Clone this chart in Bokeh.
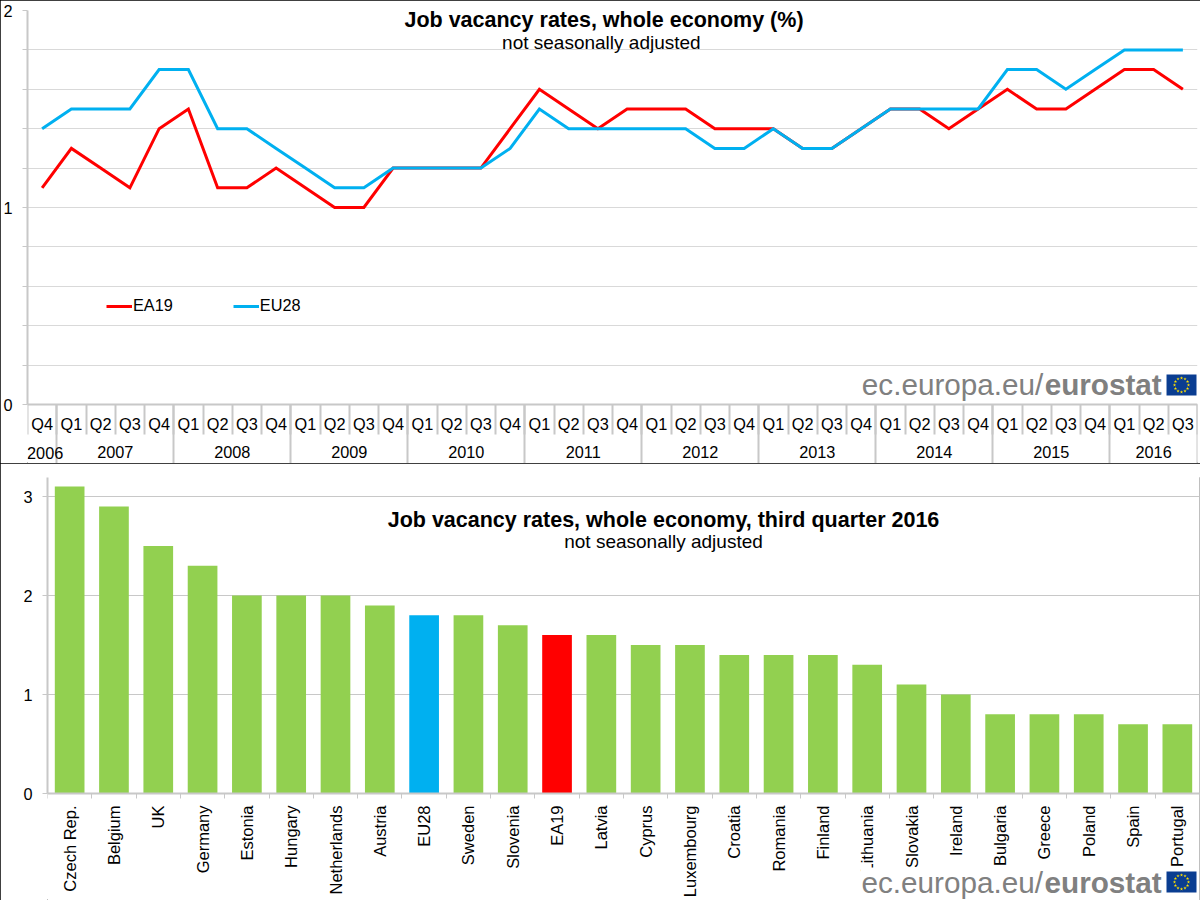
import math
from bokeh.embed import file_html
from bokeh.layouts import column
from bokeh.models import (BoxAnnotation, FixedTicker, Grid, Label,
                          Legend, LegendItem, LinearAxis, Range1d)
from bokeh.plotting import figure
from bokeh.resources import INLINE

# ---------- data ----------
quarter_labels = ["Q4"] + ["Q1", "Q2", "Q3", "Q4"] * 9 + ["Q1", "Q2", "Q3"]
year_labels = ["2006", "2007", "2008", "2009", "2010", "2011", "2012", "2013", "2014", "2015", "2016"]
year_lengths = [1, 4, 4, 4, 4, 4, 4, 4, 4, 4, 3]
ea19 = [1.1, 1.3, 1.2, 1.1, 1.4, 1.5, 1.1, 1.1, 1.2, 1.1, 1.0, 1.0, 1.2, 1.2, 1.2, 1.2, 1.4,
        1.6, 1.5, 1.4, 1.5, 1.5, 1.5, 1.4, 1.4, 1.4, 1.3, 1.3, 1.4, 1.5, 1.5, 1.4, 1.5,
        1.6, 1.5, 1.5, 1.6, 1.7, 1.7, 1.6]
eu28 = [1.4, 1.5, 1.5, 1.5, 1.7, 1.7, 1.4, 1.4, 1.3, 1.2, 1.1, 1.1, 1.2, 1.2, 1.2, 1.2, 1.3,
        1.5, 1.4, 1.4, 1.4, 1.4, 1.4, 1.3, 1.3, 1.4, 1.3, 1.3, 1.4, 1.5, 1.5, 1.5, 1.5,
        1.7, 1.7, 1.6, 1.7, 1.8, 1.8, 1.8]
countries = ["Czech Rep.", "Belgium", "UK", "Germany", "Estonia", "Hungary", "Netherlands", "Austria",
             "EU28", "Sweden", "Slovenia", "EA19", "Latvia", "Cyprus", "Luxembourg", "Croatia", "Romania",
             "Finland", "Lithuania", "Slovakia", "Ireland", "Bulgaria", "Greece", "Poland", "Spain", "Portugal"]
rates = [3.1, 2.9, 2.5, 2.3, 2.0, 2.0, 2.0, 1.9, 1.8, 1.8, 1.7, 1.6, 1.6, 1.5, 1.5, 1.4, 1.4, 1.4,
         1.3, 1.1, 1.0, 0.8, 0.8, 0.8, 0.7, 0.7]
line_ticks = [0, 0.2, 0.4, 0.6, 0.8, 1.0, 1.2, 1.4, 1.6, 1.8, 2.0]
line_tick_labels = {0: "0", 1: "1", 2: "2"}
bar_ticks = [0, 1, 2, 3]

# ---------- styles ----------
FONT = "Liberation Sans"
RED, BLUE, GREEN = "#FF0000", "#00B0F0", "#92D050"
AXIS = "#C8C8C8"
GRID = "#D9D9D9"
TEXT = "#000000"
LOGO = "#808080"
LABEL_SIZE = "16.3px"
BORDER = {"outline": "1px solid #000000", "outline-offset": "-1px", "z-index": "1"}


def add_logo(p, x_left, x_bold, x_flag, y_text, y_flag):
    """Eurostat wordmark and flag, on the figure's pixel range."""
    p.add_layout(BoxAnnotation(left=x_left - 1, right=x_flag + 30, top=y_flag - 4, bottom=y_flag + 26,
                               x_range_name="px", y_range_name="px", fill_color="white", fill_alpha=1,
                               line_color=None, level="annotation"))
    p.add_layout(Label(x=x_left, y=y_text, text="ec.europa.eu/", x_range_name="px", y_range_name="px",
                       text_font=FONT, text_font_size="29.7px", text_color=LOGO, text_baseline="alphabetic",
                       level="overlay"))
    p.add_layout(Label(x=x_bold, y=y_text, text="eurostat", x_range_name="px", y_range_name="px",
                       text_font=FONT, text_font_size="29.7px", text_font_style="bold", text_color=LOGO,
                       text_baseline="alphabetic", level="overlay"))
    top, bottom = y_flag, y_flag + 21
    p.add_layout(BoxAnnotation(left=x_flag, right=x_flag + 30, top=top, bottom=bottom, x_range_name="px",
                               y_range_name="px", fill_color="#0A3D91", fill_alpha=1, line_color=None,
                               level="annotation"))
    cx, cy = x_flag + 15, (top + bottom) / 2
    sx = [cx + 7 * math.cos(i * math.pi / 6) for i in range(12)]
    sy = [cy + 7 * math.sin(i * math.pi / 6) for i in range(12)]
    r = p.scatter(sx, sy, marker="star", size=3.5, color="#FFE000", line_width=0,
                  x_range_name="px", y_range_name="px")
    r.level = "overlay"


def add_titles(p, cx, title, sub, y_title, y_sub):
    p.add_layout(Label(x=cx, y=y_title, text=title, x_range_name="px", y_range_name="px", text_font=FONT,
                       text_font_size="21.5px", text_font_style="bold", text_color=TEXT, text_align="center",
                       text_baseline="middle"))
    p.add_layout(Label(x=cx, y=y_sub, text=sub, x_range_name="px", y_range_name="px", text_font=FONT,
                       text_font_size="19px", text_color=TEXT, text_align="center", text_baseline="middle"))


# ---------- top: line chart ----------
TOP_H = 463
y0_px, y2_px = 404, 10
unit = (y0_px - y2_px) / 2
top = figure(width=1200, height=TOP_H, output_backend="svg", toolbar_location=None, frame_align=False,
             x_range=Range1d(-0.5, len(quarter_labels) - 0.5),
             y_range=Range1d(-(TOP_H - y0_px) / unit, 2),
             min_border_left=26, min_border_right=3, min_border_top=10, min_border_bottom=0,
             outline_line_color=None, background_fill_color="white", border_fill_color="white",
             x_axis_type=None, y_axis_type=None, styles=BORDER)
top.extra_x_ranges["px"] = Range1d(26, 1197)
top.extra_y_ranges["px"] = Range1d(TOP_H, 10)

n_q = len(quarter_labels)
yaxis = LinearAxis(ticker=FixedTicker(ticks=line_ticks), bounds=(0, 2),
                   major_label_overrides={t: line_tick_labels.get(t, "") for t in line_ticks},
                   major_label_text_font=FONT, major_label_text_font_size=LABEL_SIZE, major_label_text_color=TEXT,
                   major_label_standoff=10, major_tick_in=0, major_tick_out=5, minor_tick_line_color=None,
                   axis_line_color=AXIS, axis_line_width=2, major_tick_line_color=AXIS, major_tick_line_width=1)
top.add_layout(yaxis, "left")
top.add_layout(Grid(dimension=1, ticker=FixedTicker(ticks=line_ticks), grid_line_color=GRID, grid_line_width=1))

x_idx = list(range(n_q))
boundaries = [i - 0.5 for i in range(n_q + 1)]
year_edges = [-0.5]
for n in year_lengths:
    year_edges.append(year_edges[-1] + n)
year_centers = [(a + b) / 2 for a, b in zip(year_edges[:-1], year_edges[1:])]

qaxis = LinearAxis(fixed_location=0, ticker=FixedTicker(ticks=boundaries), major_tick_in=0, major_tick_out=30,
                   major_tick_line_color=AXIS, major_tick_line_width=2, minor_tick_line_color=None,
                   axis_line_color=AXIS, axis_line_width=2, major_label_text_color=None)
top.add_layout(qaxis, "below")
yedge_axis = LinearAxis(fixed_location=0, ticker=FixedTicker(ticks=year_edges[1:]), major_tick_in=0, major_tick_out=59,
                        major_tick_line_color=AXIS, major_tick_line_width=2, minor_tick_line_color=None,
                        axis_line_color=None, major_label_text_color=None)
top.add_layout(yedge_axis, "below")
qlab = LinearAxis(fixed_location=0, ticker=FixedTicker(ticks=x_idx),
                  major_label_overrides=dict(zip(x_idx, quarter_labels)), major_tick_line_color=None,
                  minor_tick_line_color=None, axis_line_color=None, major_label_standoff=4,
                  major_label_text_font=FONT, major_label_text_font_size=LABEL_SIZE, major_label_text_color=TEXT)
top.add_layout(qlab, "below")
ylab = LinearAxis(fixed_location=0, ticker=FixedTicker(ticks=year_centers[1:]),
                  major_label_overrides=dict(zip(year_centers[1:], year_labels[1:])), major_tick_line_color=None,
                  minor_tick_line_color=None, axis_line_color=None, major_label_standoff=35,
                  major_label_text_font=FONT, major_label_text_font_size=LABEL_SIZE, major_label_text_color=TEXT)
top.add_layout(ylab, "below")
# 2006 is wider than its one-quarter slot: nudged right so the frame does not clip its first digit
top.add_layout(Label(x=year_centers[0], y=452, y_range_name="px", text=year_labels[0], x_offset=3, text_font=FONT,
                     text_font_size=LABEL_SIZE, text_color=TEXT, text_align="center", text_baseline="middle",
                     level="overlay"))

l_ea = top.line(x_idx, ea19, line_color=RED, line_width=3, line_join="miter")
l_eu = top.line(x_idx, eu28, line_color=BLUE, line_width=3, line_join="miter")
legend = Legend(items=[LegendItem(label="EA19", renderers=[l_ea]), LegendItem(label="EU28", renderers=[l_eu])],
                orientation="horizontal", location=(79, 148), padding=0, margin=0, spacing=60,
                glyph_width=26, glyph_height=18, label_standoff=1, label_text_font=FONT,
                label_text_font_size=LABEL_SIZE, label_text_color=TEXT, border_line_color=None,
                background_fill_alpha=0)
top.add_layout(legend, "center")
add_titles(top, 603, "Job vacancy rates, whole economy (%)", "not  seasonally adjusted", 19, 42)
add_logo(top, 861, 1044, 1166, 384, 374)

# ---------- bottom: bar chart ----------
BOT_H = 437
by0_px, by3_px = 793, 496
bunit = (by0_px - by3_px) / 3
n_c = len(countries)
bot = figure(width=1200, height=BOT_H, output_backend="svg", toolbar_location=None, frame_align=False,
             x_range=Range1d(0, n_c),
             y_range=Range1d(-(900 - by0_px) / bunit, (by0_px - 477) / bunit),
             min_border_left=47, min_border_right=1, min_border_top=14, min_border_bottom=0,
             outline_line_color=None, background_fill_color="white", border_fill_color="white",
             x_axis_type=None, y_axis_type=None, styles=BORDER)
bot.extra_x_ranges["px"] = Range1d(47, 1199)
bot.extra_y_ranges["px"] = Range1d(900, 477)

byaxis = LinearAxis(ticker=FixedTicker(ticks=bar_ticks), bounds=(0, (by0_px - 477) / bunit),
                    major_label_text_font=FONT, major_label_text_font_size=LABEL_SIZE, major_label_text_color=TEXT,
                    major_label_standoff=10, major_tick_in=0, major_tick_out=5, minor_tick_line_color=None,
                    axis_line_color=AXIS, axis_line_width=2, major_tick_line_color=AXIS, major_tick_line_width=1)
bot.add_layout(byaxis, "left")
bot.add_layout(Grid(dimension=1, ticker=FixedTicker(ticks=bar_ticks), grid_line_color=AXIS, grid_line_width=1))

bar_colors = [BLUE if c == "EU28" else RED if c == "EA19" else GREEN for c in countries]
centers = [i + 0.5 for i in range(n_c)]
bot.vbar(x=centers, top=rates, width=0.67, fill_color=bar_colors, line_color=None)

bot.add_layout(LinearAxis(fixed_location=0, ticker=FixedTicker(ticks=list(range(n_c + 1))),
                          major_tick_in=0, major_tick_out=5, major_tick_line_color=AXIS, major_tick_line_width=1,
                          minor_tick_line_color=None, axis_line_color=AXIS, axis_line_width=2,
                          major_label_text_color=None), "below")
cat = LinearAxis(fixed_location=0, ticker=FixedTicker(ticks=centers),
                 major_label_overrides=dict(zip(centers, countries)),
                 major_tick_line_color=None, minor_tick_line_color=None, axis_line_color=None,
                 major_label_orientation=math.pi / 2, major_label_standoff=6, major_label_text_font=FONT,
                 major_label_text_font_size="16.5px", major_label_text_color=TEXT)
bot.add_layout(cat, "below")
add_titles(bot, 663, "Job vacancy rates, whole economy, third quarter 2016", "not seasonally adjusted", 519, 541)
add_logo(bot, 861, 1044, 1166, 882, 871)

page = column(top, bot, spacing=0)
open("out.html", "w").write(file_html(page, INLINE))
